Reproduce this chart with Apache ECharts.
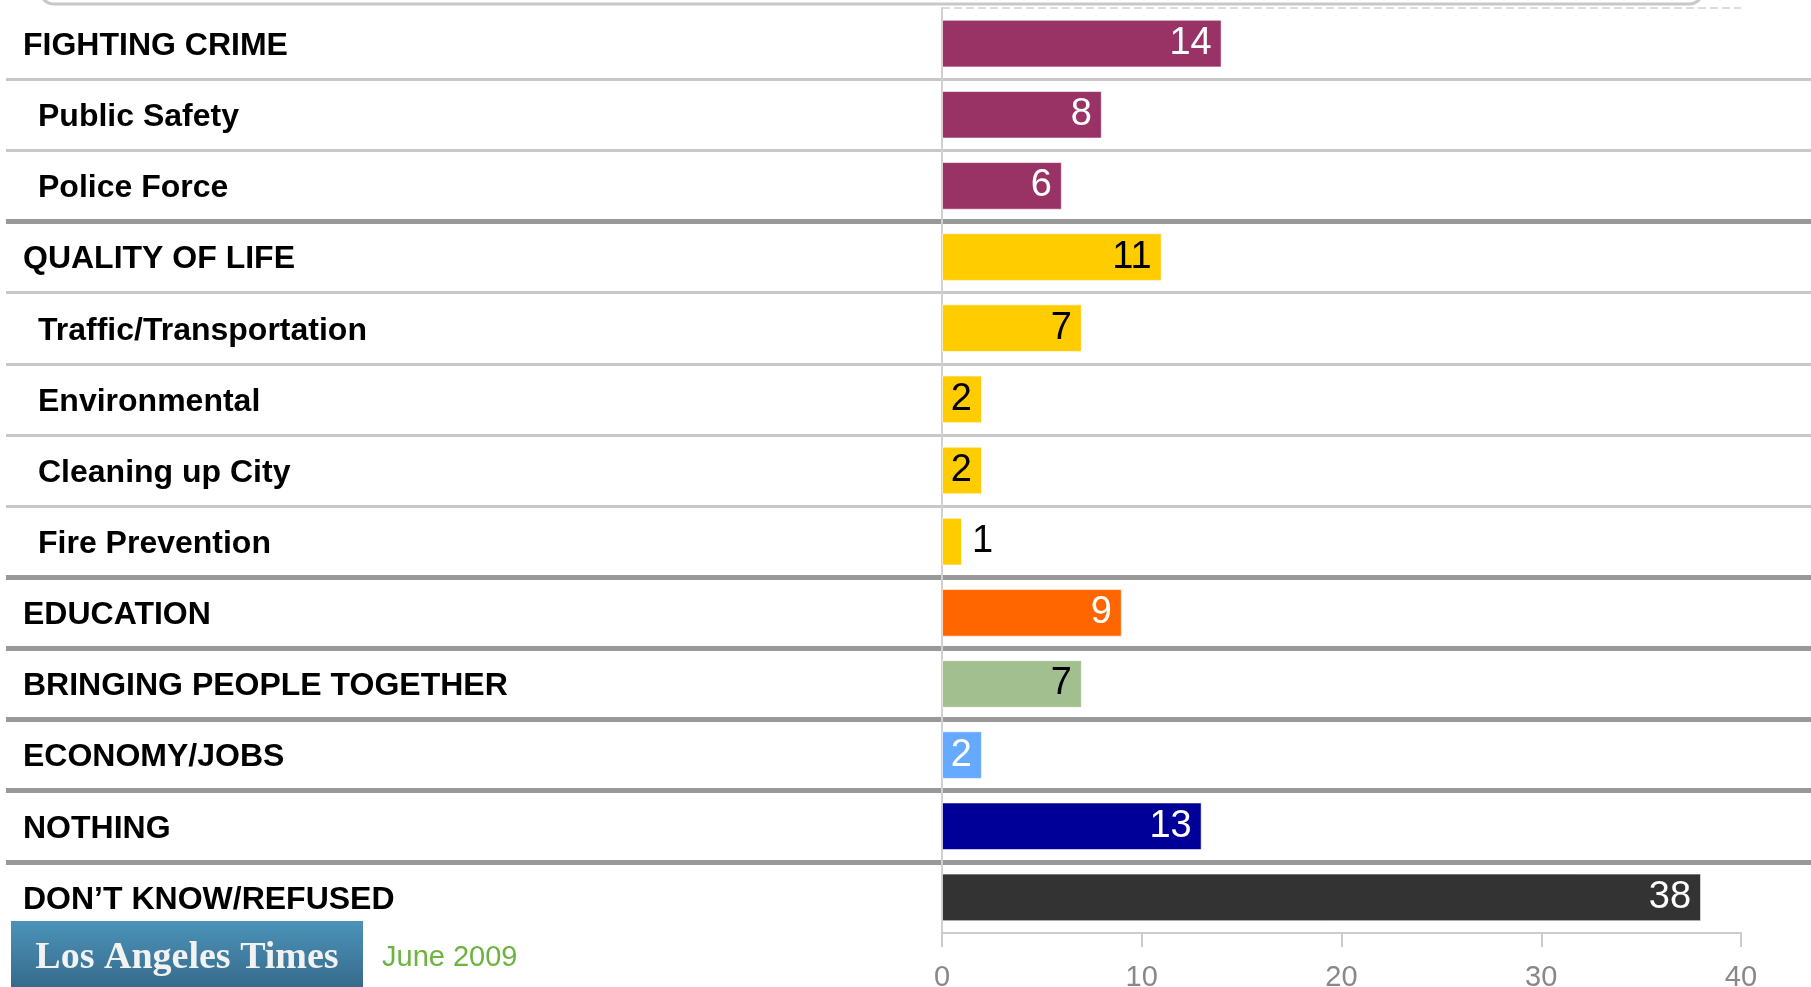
<!DOCTYPE html>
<html>
<head>
<meta charset="utf-8">
<script src="https://cdn.jsdelivr.net/npm/echarts@6/dist/echarts.min.js"></script>
<style>
  html, body { margin: 0; padding: 0; background: #fff; }
  #chart { width: 1811px; height: 987px; }
</style>
</head>
<body>
<div id="chart"></div>
<script>
  // survey answers, top to bottom
  const categories = [
    "FIGHTING CRIME", "Public Safety", "Police Force",
    "QUALITY OF LIFE", "Traffic/Transportation", "Environmental", "Cleaning up City", "Fire Prevention",
    "EDUCATION", "BRINGING PEOPLE TOGETHER", "ECONOMY/JOBS", "NOTHING", "DON\u2019T KNOW/REFUSED"
  ];
  const values = [14, 8, 6, 11, 7, 2, 2, 1, 9, 7, 2, 13, 38];
  const groups = ["crime", "crime", "crime", "life", "life", "life", "life", "life",
                  "education", "together", "economy", "nothing", "dk"];
  const isHeader = [true, false, false, true, false, false, false, false, true, true, true, true, true];
  const xTicks = [0, 10, 20, 30, 40];

  const groupColor = {
    crime: "#993366", life: "#ffcc00", education: "#ff6600", together: "#a2bf8f",
    economy: "#66aaff", nothing: "#000099", dk: "#333333"
  };
  const labelColor = {
    crime: "#fff", life: "#000", education: "#fff", together: "#000",
    economy: "#fff", nothing: "#fff", dk: "#fff"
  };

  const font = "'Liberation Sans', Arial, sans-serif";
  const gridBox = { top: 8, bottom: 54 };

  const barData = values.map((v, i) => ({
    value: v,
    itemStyle: { color: groupColor[groups[i]] },
    label: v < 2
      ? { position: "right", color: "#000", distance: 10 }
      : { position: "insideRight", color: labelColor[groups[i]], distance: 10 }
  }));

  // split lines cycle through colours; the extra closing line at the bottom gets transparent
  const thinIdx = (idx) => idx > 0 && idx < categories.length && !isHeader[idx];
  const thickIdx = (idx) => idx > 0 && idx < categories.length && isHeader[idx];
  const thinColors = categories.filter((c, i) => thinIdx(i)).map(() => "#c8c8c8").concat(["rgba(0,0,0,0)"]);
  const thickColors = categories.filter((c, i) => thickIdx(i)).map(() => "#999999").concat(["rgba(0,0,0,0)"]);

  const options = {
    animation: false,
    grid: [
      { left: 942, right: 70, top: gridBox.top, bottom: gridBox.bottom, outerBoundsMode: "none", containLabel: false },
      { left: 6, right: 0, top: gridBox.top, bottom: gridBox.bottom, outerBoundsMode: "none", containLabel: false }
    ],
    xAxis: [
      {
        type: "value",
        gridIndex: 0,
        min: xTicks[0],
        max: xTicks[xTicks.length - 1],
        interval: 10,
        axisLine: { show: true, lineStyle: { color: "#cccccc", width: 2 } },
        axisTick: { show: true, inside: false, length: 14, lineStyle: { color: "#cccccc", width: 2 } },
        axisLabel: { color: "#888", fontSize: 29, fontFamily: font, margin: 30 },
        splitLine: { show: false }
      },
      { type: "value", gridIndex: 1, min: 0, max: 1, show: false }
    ],
    yAxis: [
      {
        type: "category",
        gridIndex: 0,
        inverse: true,
        data: categories,
        axisLine: { show: true, lineStyle: { color: "#d0d0d0", width: 2 } },
        axisTick: { show: false },
        splitLine: { show: true, lineStyle: { color: "#dddddd", type: "dashed", width: 2 } },
        axisLabel: {
          margin: 919,
          align: "left",
          formatter: (v) => isHeader[categories.indexOf(v)] ? "{h|" + v + "}" : "{s|" + v + "}",
          rich: {
            h: { fontSize: 32, fontWeight: "bold", fontFamily: font, color: "#000", padding: [5, 0, 0, 0] },
            s: { fontSize: 32, fontWeight: "bold", fontFamily: font, color: "#000", padding: [5, 0, 0, 15] }
          }
        }
      },
      {
        // thin separators inside a group
        type: "category",
        gridIndex: 1,
        inverse: true,
        data: categories,
        axisLine: { show: false },
        axisTick: { show: false },
        axisLabel: { show: false },
        splitLine: {
          show: true,
          interval: thinIdx,
          lineStyle: { color: thinColors, width: 3 }
        }
      },
      {
        // thick separators between groups
        type: "category",
        gridIndex: 1,
        inverse: true,
        data: categories,
        axisLine: { show: false },
        axisTick: { show: false },
        axisLabel: { show: false },
        splitLine: {
          show: true,
          interval: thickIdx,
          lineStyle: { color: thickColors, width: 5 }
        }
      }
    ],
    series: [
      {
        type: "bar",
        xAxisIndex: 0,
        yAxisIndex: 0,
        data: barData,
        barCategoryGap: "33%",
        z: 5,
        itemStyle: { borderColor: "rgba(255,255,255,0.6)", borderWidth: 1 },
        label: { show: true, fontSize: 38, fontFamily: font, padding: [5, 0, 0, 0] }
      }
    ],
    graphic: [
      {
        type: "rect",
        shape: { x: 40, y: -40, width: 1663, height: 44, r: 14 },
        style: { fill: "none", stroke: "#c8c8c8", lineWidth: 3 }
      },
      {
        type: "rect",
        shape: { x: 11, y: 921, width: 352, height: 66 },
        style: {
          fill: new echarts.graphic.LinearGradient(0, 0, 0, 1, [
            { offset: 0, color: "#4b93b9" },
            { offset: 1, color: "#376b8c" }
          ])
        }
      },
      {
        type: "text",
        x: 187, y: 958,
        style: {
          text: "Los Angeles Times", fill: "#f2f2f2",
          font: "bold 38px 'Liberation Serif', serif",
          align: "center", verticalAlign: "middle"
        }
      },
      {
        type: "text",
        x: 382, y: 958,
        style: {
          text: "June 2009", fill: "#6cb33f",
          font: "29px " + font,
          align: "left", verticalAlign: "middle"
        }
      }
    ]
  };

  let myChart = echarts.init(document.getElementById("chart"));
  myChart.setOption(options);
  window.addEventListener("resize", () => myChart.resize(), false);
</script>
</body>
</html>
